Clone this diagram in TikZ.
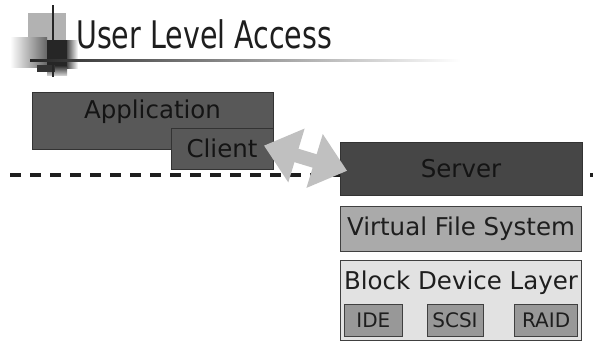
\documentclass[tikz,border=0pt]{standalone}
\usepackage{fontspec}
\setmainfont{DejaVu Sans}
\newfontfamily\titlefont{DejaVu Sans}[FakeStretch=0.75]
\usetikzlibrary{
  arrows.meta,
  positioning
}
\definecolor{ink}{RGB}{30,30,30}
\definecolor{darkbox}{RGB}{88,88,88}
\definecolor{serverbox}{RGB}{70,70,70}
\definecolor{midbox}{RGB}{170,170,170}
\definecolor{lightbox}{RGB}{226,226,226}
\definecolor{devbox}{RGB}{152,152,152}
\definecolor{arrowgray}{RGB}{192,192,192}
\newcommand{\bigtext}{\fontsize{24.5}{27}\selectfont}

\begin{document}
\begin{tikzpicture}[
  x=1pt, y=-1pt,
  darklayer/.style={
    draw=black!80,
    line width=1pt,
    fill=darkbox,
    text=black!92,
    font=\bigtext,
    inner sep=0pt
  },
  layer/.style={
    draw=black!75,
    line width=1.2pt,
    text=ink,
    font=\bigtext,
    inner sep=0pt,
    minimum width=241pt
  },
  dev/.style={
    draw=black!75,
    line width=1pt,
    fill=devbox,
    text=ink,
    font=\fontsize{20}{22}\selectfont,
    inner sep=0pt,
    minimum height=32pt
  }
]
\useasboundingbox (0,0) rectangle (593,340);

\fill[black!30] (28,13) rectangle (66,40);
\shade[left color=white, right color=black!60] (10,37) rectangle (47,67);
\shade[left color=black!70, right color=white] (67,40) rectangle (78,68);
\fill[black!85] (47,40) rectangle (67,66);
\shade[top color=black!80, bottom color=black!20] (47,66) rectangle (67,75);
\fill[black!80] (37,65) rectangle (55,72);
\draw[line width=1.5pt, black!85] (53,5) -- (53,77);
\shade[left color=black!85, right color=white] (30,59) rectangle (460,61.5);
\node[anchor=base west, inner sep=0pt, text=ink, font=\titlefont\fontsize{38}{40}\selectfont] (title) at (76,48) {User Level Access};

\coordinate (lineL) at (10,175);
\coordinate (lineR) at (593,175);
\draw[ink, line width=4pt, dash pattern=on 11pt off 9pt] (lineL) -- (lineR);

\node[darklayer, minimum width=241pt, minimum height=57pt,
  label={[font=\bigtext, text=black!92, yshift=9pt]center:Application}] (app) at (152.5,120.5) {};
\node[darklayer, minimum width=102pt, minimum height=41pt] (client) at (222,148.5) {Client};
\node[darklayer, fill=serverbox, minimum width=242pt, minimum height=53pt] (server) at (461,168.5) {Server};
\node[layer, fill=midbox, minimum height=45pt, below=10pt of server] (vfs) {Virtual File System};
\node[layer, fill=lightbox, minimum height=80pt, below=8pt of vfs,
  label={[font=\bigtext, text=ink, anchor=north, yshift=-8pt]north:Block Device Layer}] (block) {};

\node[dev, minimum width=58pt, anchor=south west] (ide) at ([xshift=4pt, yshift=4pt]block.south west) {IDE};
\node[dev, minimum width=56pt, anchor=south] (scsi) at ([xshift=-6pt, yshift=4pt]block.south) {SCSI};
\node[dev, minimum width=63pt, anchor=south east] (raid) at ([xshift=-4pt, yshift=4pt]block.south east) {RAID};

\draw[arrowgray, line width=14pt, {Triangle[length=34pt,width=54pt]}-{Triangle[length=34pt,width=54pt]}, shorten <=-10pt, shorten >=-8pt] (client.east) -- (server.west);
\end{tikzpicture}
\end{document}
